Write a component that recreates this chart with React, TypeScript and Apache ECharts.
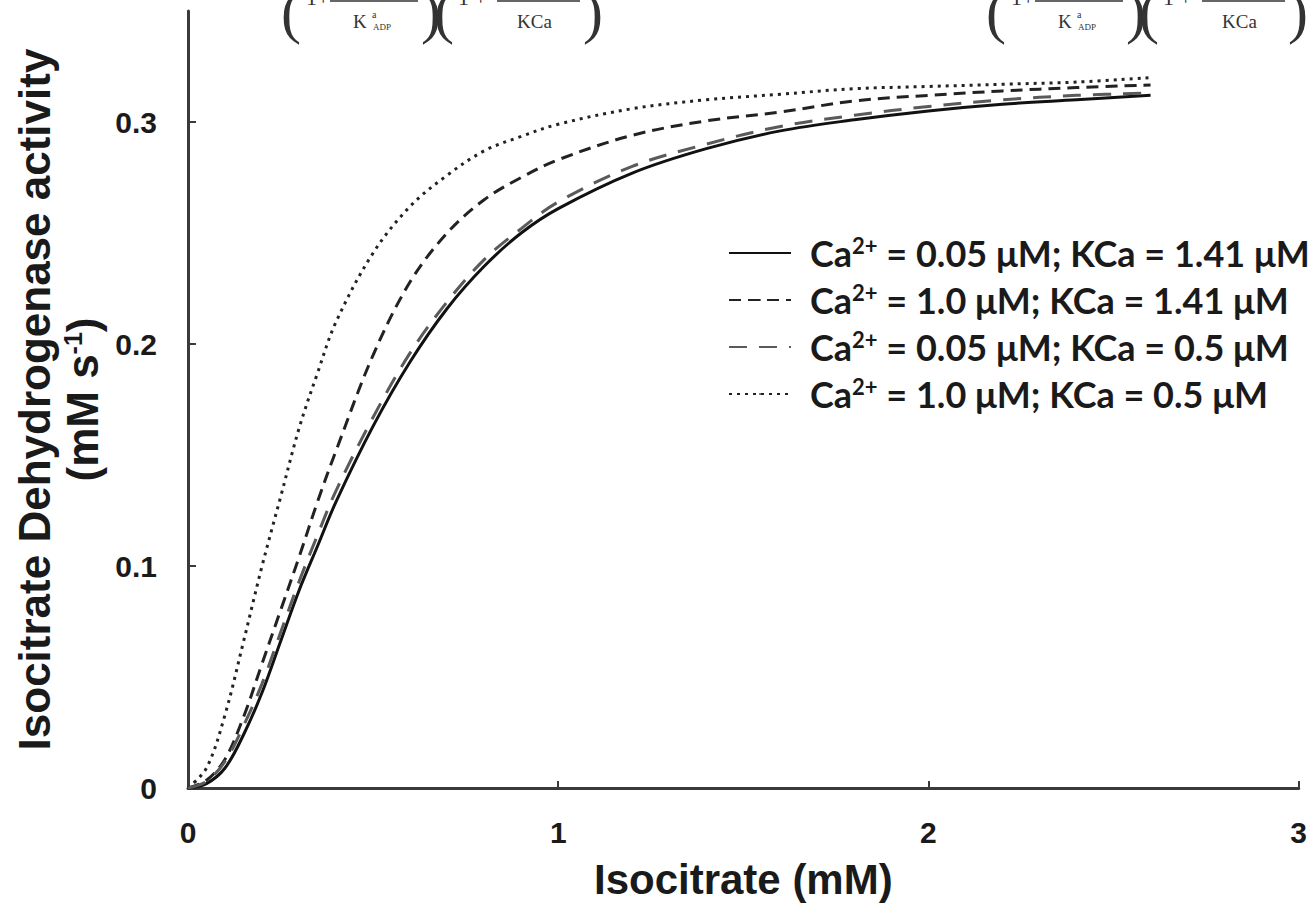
import React, { useEffect, useRef } from "react";
import * as echarts from "echarts";

// Isocitrate concentration (mM) at which the curves were read
const isocitrate = [0, 0.05, 0.1, 0.15, 0.2, 0.25, 0.3, 0.35, 0.4, 0.5, 0.6, 0.7, 0.8, 0.9, 1.0, 1.2, 1.4, 1.6, 1.8, 2.0, 2.2, 2.4, 2.6];

// IDH activity (mM s^-1)
const caLowKca141 = [0, 0.002, 0.009, 0.024, 0.043, 0.066, 0.089, 0.109, 0.129, 0.163, 0.192, 0.216, 0.235, 0.25, 0.261, 0.277, 0.288, 0.296, 0.301, 0.305, 0.308, 0.31, 0.312];
const caHighKca141 = [0, 0.0035, 0.013, 0.032, 0.056, 0.08, 0.104, 0.129, 0.152, 0.195, 0.228, 0.25, 0.265, 0.275, 0.283, 0.294, 0.3005, 0.3045, 0.3095, 0.312, 0.314, 0.3155, 0.3167];
const caLowKca05 = [0, 0.003, 0.012, 0.028, 0.047, 0.07, 0.093, 0.114, 0.134, 0.167, 0.196, 0.219, 0.238, 0.252, 0.264, 0.28, 0.29, 0.298, 0.303, 0.307, 0.31, 0.312, 0.313];
const caHighKca05 = [0, 0.009, 0.033, 0.066, 0.1, 0.131, 0.162, 0.187, 0.21, 0.241, 0.262, 0.276, 0.287, 0.2935, 0.299, 0.306, 0.31, 0.3125, 0.315, 0.316, 0.317, 0.318, 0.32];

const seriesNames = [
  "Ca2+ = 0.05 μM; KCa = 1.41 μM",
  "Ca2+ = 1.0 μM; KCa = 1.41 μM",
  "Ca2+ = 0.05 μM; KCa = 0.5 μM",
  "Ca2+ = 1.0 μM; KCa = 0.5 μM",
];
const legendRich = [
  "{n|Ca}{s|2+}{n| = 0.05 μM; KCa = 1.41 μM}",
  "{n|Ca}{s|2+}{n| = 1.0 μM; KCa = 1.41 μM}",
  "{n|Ca}{s|2+}{n| = 0.05 μM; KCa = 0.5 μM}",
  "{n|Ca}{s|2+}{n| = 1.0 μM; KCa = 0.5 μM}",
];

const xTickLabels = [0, 1, 2, 3];
const yTickLabels = [0, 0.1, 0.2, 0.3];

const SANS = '"Liberation Sans", Arial, sans-serif';
const LEGEND_FONT = 'Lato, "Liberation Sans", sans-serif';
const SERIF = '"Liberation Serif", "DejaVu Serif", serif';

function pairs(ys: number[]) {
  return isocitrate.map((x, i) => [x, ys[i]]);
}

function formulaFragments(o: number) {
  const ink = "#333";
  const t = (text: string, x: number, y: number, size: number, va = "top") => ({
    type: "text",
    x: x + o,
    y,
    silent: true,
    style: { text, font: `normal ${size}px ${SERIF}`, fill: ink, verticalAlign: va, align: "left" },
  });
  const bar = (x1: number, x2: number) => ({
    type: "line",
    silent: true,
    shape: { x1: x1 + o, y1: 1, x2: x2 + o, y2: 1 },
    style: { stroke: ink, lineWidth: 1.5 },
  });
  return [
    t("(", 281, 42, 60, "bottom"),
    t("1+", 306, 8, 22, "bottom"),
    bar(330, 418),
    t("K", 353, 12, 19),
    t("a", 372, 9, 10),
    t("ADP", 373, 22, 9),
    t(")", 421, 42, 60, "bottom"),
    t("(", 434, 42, 60, "bottom"),
    t("1 +", 458, 8, 22, "bottom"),
    bar(497, 580),
    t("KCa", 517, 12, 19),
    t(")", 583, 42, 60, "bottom"),
  ];
}

export default function App() {
  const ref = useRef<HTMLDivElement>(null);

  useEffect(() => {
    if (!ref.current) return;
    const chart = echarts.init(ref.current, undefined, { renderer: "svg" });
    const axisColor = "#3a3a3a";
    const lineCommon = { type: "line", symbol: "none", showSymbol: false, smooth: 0.35 };
    const option = {
      animation: false,
      backgroundColor: "#ffffff",
      grid: { left: 188, right: 10, top: 11, bottom: 117, containLabel: false },
      legend: {
        orient: "vertical",
        left: 723,
        top: 229,
        itemWidth: 62,
        itemHeight: 2,
        itemGap: 10,
        data: seriesNames,
        formatter: (name: string) => legendRich[seriesNames.indexOf(name)],
        textStyle: {
          padding: [0, 0, 0, 14],
          rich: {
            n: { fontSize: 36, fontFamily: LEGEND_FONT, fontWeight: "bold", color: "#1a1a1a", lineHeight: 36 },
            s: { fontSize: 22, fontFamily: LEGEND_FONT, fontWeight: "bold", color: "#1a1a1a", padding: [0, 0, 16, 0] },
          },
        },
      },
      xAxis: {
        type: "value",
        min: 0,
        max: 3,
        interval: 1,
        axisLine: { show: true, onZero: false, lineStyle: { color: axisColor, width: 3 } },
        axisTick: { show: true, inside: true, length: 7, customValues: [1, 2, 3], lineStyle: { color: axisColor, width: 2 } },
        axisLabel: { customValues: xTickLabels, margin: 29, fontSize: 30, fontWeight: "bold", fontFamily: SANS, color: "#1a1a1a" },
        splitLine: { show: false },
        name: "Isocitrate (mM)",
        nameLocation: "middle",
        nameGap: 70,
        nameTextStyle: { fontSize: 42, fontWeight: "bold", fontFamily: SANS, color: "#1a1a1a" },
      },
      yAxis: {
        type: "value",
        min: 0,
        max: 0.35,
        interval: 0.1,
        axisLine: { show: true, onZero: false, lineStyle: { color: axisColor, width: 3 } },
        axisTick: { show: true, inside: true, length: 8, customValues: [0.1, 0.2, 0.3], lineStyle: { color: axisColor, width: 2 } },
        axisLabel: { customValues: yTickLabels, margin: 31, fontSize: 30, fontWeight: "bold", fontFamily: SANS, color: "#1a1a1a" },
        splitLine: { show: false },
        name: "{t|Isocitrate Dehydrogenase activity}\n{t|(mM s}{s|-1}{t|)}",
        nameLocation: "middle",
        nameRotate: 90,
        nameGap: 76,
        nameTextStyle: {
          rich: {
            t: { fontSize: 44, fontWeight: "bold", fontFamily: SANS, color: "#1a1a1a", lineHeight: 48 },
            s: { fontSize: 25, fontWeight: "bold", fontFamily: SANS, color: "#1a1a1a", padding: [0, 0, 18, 0] },
          },
        },
      },
      series: [
        {
          ...lineCommon,
          name: seriesNames[0],
          data: pairs(caLowKca141),
          z: 3,
          lineStyle: { color: "#111", width: 3, type: "solid" },
          itemStyle: { color: "#111" },
        },
        {
          ...lineCommon,
          name: seriesNames[1],
          data: pairs(caHighKca141),
          lineStyle: { color: "#222", width: 3, type: [12, 7] },
          itemStyle: { color: "#222" },
        },
        {
          ...lineCommon,
          name: seriesNames[2],
          data: pairs(caLowKca05),
          z: 4,
          lineStyle: { color: "#5a5a5a", width: 3, type: [18, 12] },
          itemStyle: { color: "#5a5a5a" },
        },
        {
          ...lineCommon,
          name: seriesNames[3],
          data: pairs(caHighKca05),
          lineStyle: { color: "#222", width: 3, type: [3, 5] },
          itemStyle: { color: "#222" },
        },
      ],
      graphic: [...formulaFragments(0), ...formulaFragments(705)],
    };
    chart.setOption(option as any);
    return () => chart.dispose();
  }, []);

  return (
    <div
      ref={ref}
      style={{ position: "fixed", left: 0, top: 0, width: 1310, height: 905, background: "#fff" }}
    />
  );
}
